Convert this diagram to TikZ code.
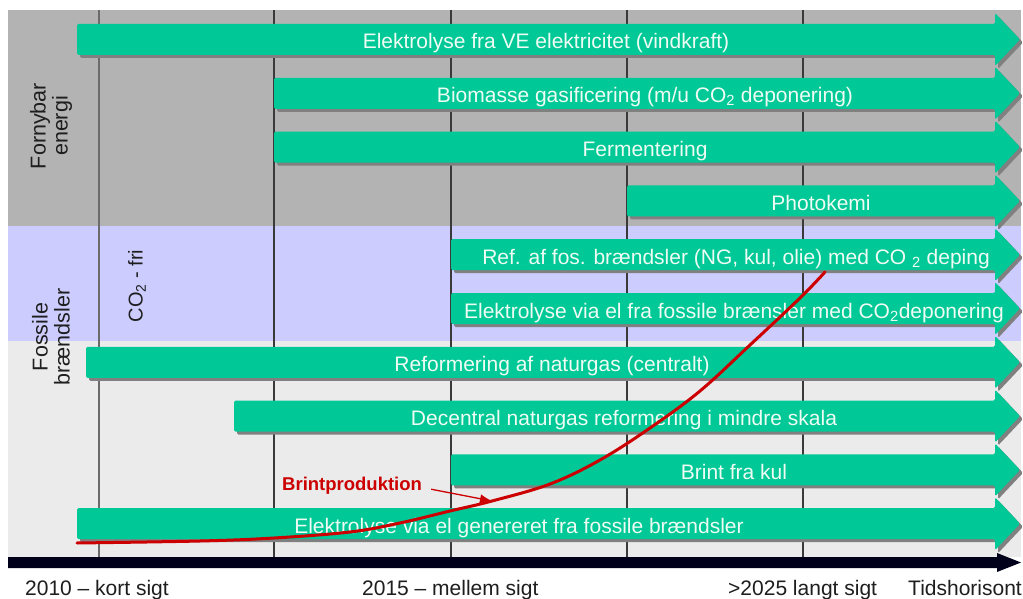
\documentclass[tikz,border=0pt]{standalone}
\usepackage{fontspec}
\setmainfont{Liberation Sans}
\usetikzlibrary{arrows.meta}
\definecolor{topgray}{HTML}{B3B3B3}
\definecolor{lav}{HTML}{CCCCFF}
\definecolor{lgray}{HTML}{EBEBEB}
\definecolor{grn}{HTML}{00C896}
\definecolor{shad}{HTML}{808080}
\definecolor{txtw}{HTML}{EEFCF4}
\definecolor{rd}{HTML}{CC0000}
\definecolor{gridc}{HTML}{3A3A3A}
\definecolor{axisc}{HTML}{00001A}
\definecolor{lblc}{HTML}{1E1E1E}
\newcommand{\garrow}[2]{%
  \begin{scope}[shift={(3,3)}]
    \fill[shad, rounded corners=1.5] (#1,#2) -- (995,#2) -- (995,#2-11) -- (1020,#2+15.5) -- (995,#2+42) -- (995,#2+31) -- (#1,#2+31) -- cycle;
  \end{scope}
  \fill[grn, rounded corners=1.5] (#1,#2) -- (995,#2) -- (995,#2-11) -- (1020,#2+15.5) -- (995,#2+42) -- (995,#2+31) -- (#1,#2+31) -- cycle;
}
\begin{document}
\begin{tikzpicture}[x=1pt,y=-1pt,
  atext/.style={anchor=base, text=txtw, font=\fontsize{21}{24}\selectfont, inner sep=0pt},
  sidelbl/.style={rotate=90, align=center, text=lblc, font=\fontsize{21.5}{22}\selectfont, inner sep=0pt},
  botlbl/.style={anchor=base west, text=lblc, font=\fontsize{21}{24}\selectfont, inner sep=0pt},
  gline/.style={line width=1.3pt, draw=gridc}]
\useasboundingbox (0,0) rectangle (1023,599);
\fill[white] (0,0) rectangle (1023,599);
% background bands
\fill[topgray] (8,10) rectangle (1021,226);
\fill[lav] (8,226) rectangle (1021,341);
\fill[lgray] (8,341) rectangle (1021,557);
% grid lines
\draw[gline, draw=gridc!75] (99,10) -- (99,557);
\foreach \x in {274,451,627,803} \draw[gline] (\x,10) -- (\x,557);
% arrows
\garrow{77}{24}
\garrow{274}{77.8}
\garrow{274}{131.6}
\garrow{627}{185.4}
\garrow{451}{239.2}
\garrow{451}{293}
\garrow{86}{346.8}
\garrow{234}{400.6}
\garrow{451}{454.4}
\garrow{77}{508.2}
% arrow texts
\node[atext] (t1) at (546,49) {Elektrolyse fra VE elektricitet (vindkraft)};
\node[atext] (t2) at (645,102.8) {Biomasse gasificering (m/u CO\textsubscript{2} deponering)};
\node[atext] (t3) at (645,156.6) {Fermentering};
\node[atext] (t4) at (821,210.4) {Photokemi};
\node[atext] (t5) at (736,264.2) {Ref. af fos. brændsler (NG, kul, olie) med CO \textsubscript{2} deping};
\node[atext] (t6) at (734,318) {Elektrolyse via el fra fossile brænsler med CO\textsubscript{2}deponering};
\node[atext] (t7) at (552,371.8) {Reformering af naturgas (centralt)};
\node[atext] (t8) at (624,425.6) {Decentral naturgas reformering i mindre skala};
\node[atext] (t9) at (734,479.4) {Brint fra kul};
\node[atext] (t10) at (519,533.2) {Elektrolyse via el genereret fra fossile brændsler};
% side labels
\node[sidelbl] (fe) at (51,126) {Fornybar\\energi};
\node[sidelbl] (fb) at (51,337) {Fossile\\brændsler};
\node[sidelbl, font=\fontsize{20}{22}\selectfont] (co) at (137,286) {CO\textsubscript{2} - fri};
% time axis
\fill[axisc] (8,557) -- (997,557) -- (997,553) -- (1021,562.5) -- (997,572) -- (997,568) -- (8,568) -- cycle;
\node[botlbl] (b1) at (25,595) {2010 – kort sigt};
\node[botlbl] (b2) at (362,595) {2015 – mellem sigt};
\node[botlbl] (b3) at (728,595) {>2025 langt sigt};
\node[botlbl] (b4) at (908,595) {Tidshorisont};
% red production curve
\draw[rd, line width=3pt, line cap=round] plot[smooth, tension=0.6] coordinates {(77,543) (200,541) (274,538) (350,532) (400,523) (450,511) (492,501) (550,484) (600,460) (650,428) (700,391) (750,345) (800,298) (825,272)};
\coordinate (bp) at (492,501);
\node[anchor=base west, text=rd, font=\fontsize{18.5}{20}\bfseries\selectfont, inner sep=0pt] (lbl) at (282,490) {Brintproduktion};
\draw[rd, line width=1.3pt, -{Latex[length=12pt,width=9pt]}] ([xshift=9pt,yshift=-4pt]lbl.east) -- (bp);
\end{tikzpicture}
\end{document}
